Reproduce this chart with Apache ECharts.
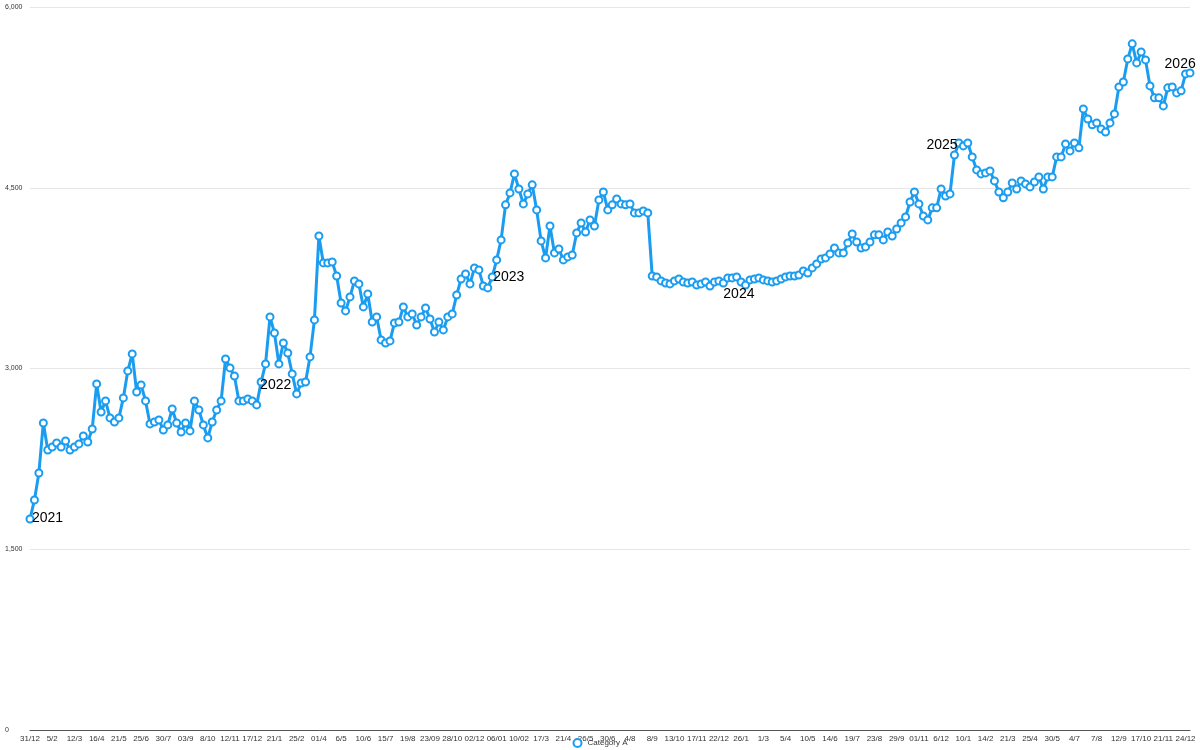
<!DOCTYPE html>
<html><head><meta charset="utf-8">
<script src="https://cdn.jsdelivr.net/npm/echarts@6/dist/echarts.min.js"></script>
<style>html,body{margin:0;padding:0;background:#fff}#c{width:1200px;height:750px}</style>
</head><body><div id="c"></div>
<script>
const tickLabels = ['31/12','5/2','12/3','16/4','21/5','25/6','30/7','03/9','8/10','12/11','17/12','21/1','25/2','01/4','6/5','10/6','15/7','19/8','23/09','28/10','02/12','06/01','10/02','17/3','21/4','26/5','30/6','4/8','8/9','13/10','17/11','22/12','26/1','1/3','5/4','10/5','14/6','19/7','23/8','29/9','01/11','6/12','10/1','14/2','21/3','25/4','30/5','4/7','7/8','12/9','17/10','21/11','24/12'];
const values = [
1751,1909,2133,2548,2324,2349,2382,2349,2399,2324,2349,2374,2440,2390,2498,2872,2639,2731,2590,2556,
2590,2756,2980,3121,2805,2864,2731,2540,2556,2573,2490,2532,2664,2548,2473,2548,2482,2731,2656,2532,
2424,2556,2656,2731,3079,3005,2938,2731,2731,2747,2731,2698,2888,3038,3428,3295,3038,3212,3129,2955,
2789,2880,2888,3096,3403,4100,3876,3876,3884,3768,3544,3478,3594,3727,3702,3511,3619,3386,3428,3237,
3212,3229,3378,3386,3511,3428,3453,3361,3428,3503,3411,3303,3386,3320,3428,3453,3610,3743,3785,3702,
3835,3818,3685,3669,3760,3901,4067,4358,4457,4615,4490,4366,4449,4524,4316,4059,3918,4183,3959,3992,
3901,3926,3942,4125,4208,4133,4233,4183,4399,4465,4316,4358,4407,4366,4358,4366,4291,4291,4308,4291,
3768,3760,3727,3710,3702,3727,3743,3718,3710,3718,3693,3702,3718,3685,3718,3727,3710,3752,3752,3760,
3718,3693,3735,3743,3752,3735,3727,3718,3727,3743,3760,3768,3768,3776,3810,3793,3835,3868,3909,3918,
3951,4000,3959,3959,4042,4117,4050,4000,4009,4050,4109,4109,4067,4133,4100,4158,4208,4258,4382,4465,
4366,4266,4233,4333,4333,4490,4432,4449,4772,4871,4847,4871,4756,4648,4615,4623,4640,4557,4465,4416,
4465,4540,4490,4557,4532,4507,4548,4590,4490,4590,4590,4756,4756,4864,4806,4871,4831,5154,5071,5022,
5038,4988,4963,5038,5113,5337,5378,5569,5694,5536,5627,5561,5345,5246,5246,5179,5329,5337,5287,5304,
5445,5453];
const yearIdx = [0,52,104,156,208,260];
const yearText = ['2021','2022','2023','2024','2025','2026'];
const yearPos = [[6.5,3.5],[3.5,7.5],[5.5,4.5],[4.5,15.5],[-23.5,-5.5],[-16.5,-5.5]];
const cats = values.map((v,i)=>String(i));
const data = values.map((v,i)=>{
  const k = yearIdx.indexOf(i);
  if(k<0) return v;
  return {value:v,label:{show:true,formatter:yearText[k],position:yearPos[k],align:'left',verticalAlign:'middle',color:'#000',fontSize:14,fontFamily:'Helvetica, Arial, sans-serif'}};
});
const chart = echarts.init(document.getElementById('c'));
chart.setOption({
  animation:false,
  grid:{left:30,right:10,top:7,bottom:20},
  legend:{bottom:-3,left:'center',itemWidth:10,itemHeight:8,icon:'emptyCircle',textStyle:{fontSize:8,color:'#333'},data:['Category A']},
  xAxis:{type:'category',data:cats,boundaryGap:false,
    axisLine:{lineStyle:{color:'#555'}},axisTick:{show:false},
    axisLabel:{interval:i=>i%5===0,formatter:(v,i)=>i%5===0?tickLabels[i/5]:'',fontSize:8,color:'#333',margin:5}},
  yAxis:{type:'value',min:0,max:6000,interval:1500,
    axisLabel:{fontSize:7,color:'#333',margin:25,align:'left',formatter:v=>v.toLocaleString('en-US')},
    splitLine:{lineStyle:{color:'#e6e6e6'}},axisLine:{show:false},axisTick:{show:false}},
  series:[{name:'Category A',type:'line',data:data,symbol:'emptyCircle',symbolSize:7,showAllSymbol:true,
    lineStyle:{width:3,color:'#1a9df0'},itemStyle:{color:'#1a9df0',borderWidth:2},label:{show:false}}]
});
</script></body></html>
